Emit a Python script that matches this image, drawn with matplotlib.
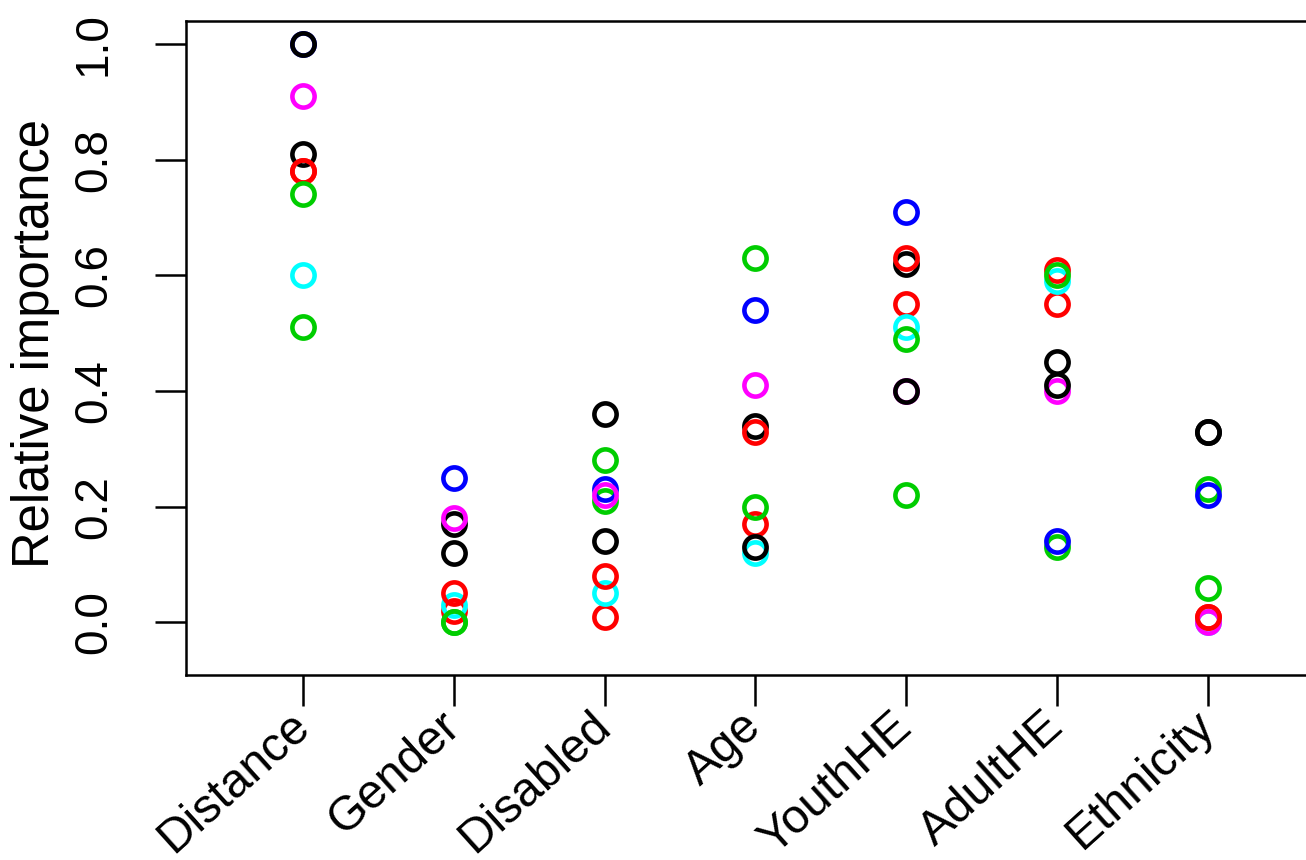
import matplotlib
matplotlib.use("Agg")
import matplotlib.pyplot as plt

plt.rcParams['font.family'] = ['Liberation Sans', 'DejaVu Sans']

categories = ["Distance", "Gender", "Disabled", "Age", "YouthHE", "AdultHE", "Ethnicity"]

# nine model series (values per category, in category order)
s1_black   = [0.81, 0.17, 0.36, 0.34, 0.62, 0.45, 0.33]
s2_red     = [0.78, 0.02, 0.01, 0.17, 0.55, 0.55, 0.01]
s3_green   = [0.51, 0.00, 0.21, 0.63, 0.22, 0.13, 0.23]
s4_blue    = [1.00, 0.25, 0.23, 0.54, 0.71, 0.14, 0.22]
s5_cyan    = [0.60, 0.03, 0.05, 0.12, 0.51, 0.59, 0.00]
s6_magenta = [0.91, 0.18, 0.22, 0.41, 0.40, 0.40, 0.00]
s7_black   = [1.00, 0.12, 0.14, 0.13, 0.40, 0.41, 0.33]
s8_red     = [0.78, 0.05, 0.08, 0.33, 0.63, 0.61, 0.01]
s9_green   = [0.74, 0.00, 0.28, 0.20, 0.49, 0.60, 0.06]

series = [s1_black, s2_red, s3_green, s4_blue, s5_cyan, s6_magenta, s7_black, s8_red, s9_green]
colors = ["#000000", "#FF0000", "#00CD00", "#0000FF", "#00FFFF", "#FF00FF", "#000000", "#FF0000", "#00CD00"]

yticks = [0.0, 0.2, 0.4, 0.6, 0.8, 1.0]
ytick_labels = ["0.0", "0.2", "0.4", "0.6", "0.8", "1.0"]

W, H = 1306, 860
fig = plt.figure(figsize=(W / 100, H / 100), dpi=100)
left_px, right_px, top_px, bottom_px = 186, 1320, 21, 675
ax = fig.add_axes([left_px / W, (H - bottom_px) / H, (right_px - left_px) / W, (bottom_px - top_px) / H])

x = list(range(len(categories)))
for vals, c in zip(series, colors):
    ax.plot(x, vals, linestyle="none", marker="o", markersize=16.0,
            markerfacecolor="none", markeredgecolor=c, markeredgewidth=3.3, clip_on=False)

ax.set_xlim(-0.778, 6.746)
ax.set_ylim(-0.091, 1.040)

for s in ax.spines.values():
    s.set_linewidth(1.8)

ax.set_yticks(yticks)
ax.set_yticklabels(ytick_labels)
ax.tick_params(axis="y", length=22.5, width=1.8, pad=28, labelsize=33, labelrotation=90)
for lab in ax.get_yticklabels():
    lab.set_va("center")

ax.set_xticks(x)
ax.set_xticklabels(categories, rotation=42, ha="right", va="center", rotation_mode="anchor")
ax.tick_params(axis="x", length=22.5, width=1.8, pad=10, labelsize=34.5)

ax.set_ylabel("Relative importance", fontsize=36.6)
ax.yaxis.set_label_coords((60 - left_px) / (right_px - left_px), (bottom_px - 344) / (bottom_px - top_px))

fig.savefig("out.png", dpi=100)
